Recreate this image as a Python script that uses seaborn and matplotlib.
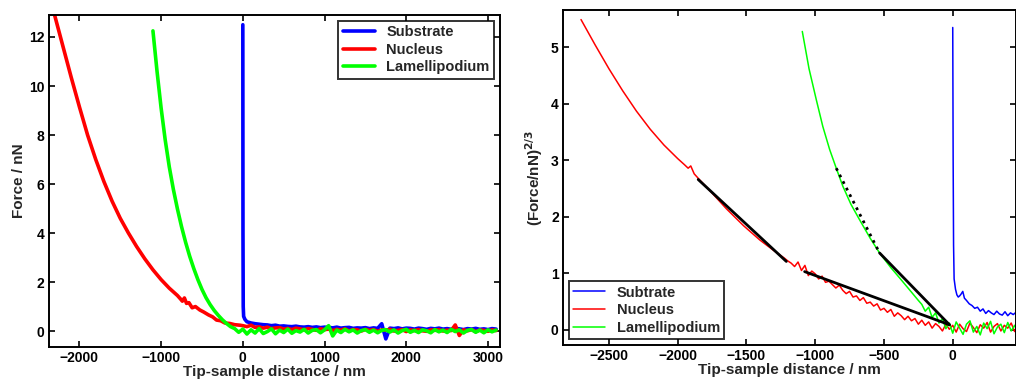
import numpy as np
import pandas as pd
import matplotlib
matplotlib.use("Agg")
import matplotlib.pyplot as plt
import seaborn as sns

sns.set_theme(style="white")
plt.rcParams['font.family'] = ['Liberation Sans', 'DejaVu Sans']
plt.rcParams['font.weight'] = 'bold'
plt.rcParams['axes.labelweight'] = 'bold'

# ================= Left panel: Force / nN =================
# Substrate: contact part, then sampled tail (50 nm grid starting at 50 nm)
left_sub_head_x = [0, 0, 2, 5, 10, 25]
left_sub_head_y = [12.5, 12.5, 4.0, 1.0, 0.60, 0.48]
left_sub_tail_start = 50
left_sub_tail_y = [0.38, 0.33, 0.30, 0.28, 0.26, 0.25, 0.22, 0.24, 0.20, 0.21, 0.19, 0.18, 0.20, 0.17,
                   0.16, 0.18, 0.15, 0.17, 0.14, 0.16, 0.15, 0.13, 0.16, 0.12, 0.14, 0.15, 0.11, 0.13,
                   0.12, 0.14, 0.10, 0.13, 0.11, 0.30, -0.32, 0.12, 0.10, 0.13, 0.09, 0.12, 0.11, 0.08,
                   0.12, 0.10, 0.07, 0.11, 0.09, 0.12, 0.08, 0.10, 0.07, 0.11, 0.09, 0.06, 0.10, 0.08,
                   0.11, 0.07, 0.09, 0.06, 0.10, 0.08]

# Nucleus
left_nuc_head_x = [-2330, -2300, -2200, -2100, -2000, -1900, -1800, -1700, -1600, -1500, -1400, -1300,
                   -1200, -1100, -1000, -900, -800, -760, -740, -715, -689, -660, -620, -580, -526,
                   -480, -420, -370, -322, -270, -220, -160, -100, -37]
left_nuc_head_y = [13.2, 12.85, 11.6, 10.35, 9.15, 8.0, 7.0, 6.1, 5.3, 4.6, 4.0, 3.45, 2.95, 2.5, 2.1,
                   1.75, 1.45, 1.30, 1.22, 1.35, 1.13, 1.16, 0.95, 1.0, 0.86, 0.78, 0.66, 0.58, 0.45,
                   0.42, 0.33, 0.31, 0.26, 0.24]
left_nuc_tail_start = 0
left_nuc_tail_y = [0.22, 0.18, 0.24, 0.15, 0.17, 0.12, 0.16, 0.10, 0.13, 0.14, 0.08, 0.11, 0.06, 0.12,
                   0.09, 0.05, 0.10, 0.07, 0.03, 0.09, 0.06, 0.08, 0.02, 0.07, 0.04, 0.09, 0.01, 0.06,
                   0.05, 0.00, 0.07, 0.03, 0.06, -0.01, 0.05, 0.04, 0.07, 0.00, 0.03, 0.06, -0.02, 0.05,
                   0.02, 0.06, 0.01, -0.01, 0.05, 0.03, 0.06, 0.00, 0.04, 0.02, 0.25, -0.18, 0.05, 0.01,
                   0.06, -0.02, 0.04, 0.03, -0.01, 0.05, 0.02]

# Lamellipodium
left_lam_head_x = [-1100, -1050, -1000, -950, -900, -850, -800, -750, -700, -650, -600, -550, -500,
                   -450, -400, -350, -300, -250, -200, -150]
left_lam_head_y = [12.25, 10.6, 9.1, 7.8, 6.7, 5.78, 4.98, 4.26, 3.62, 3.05, 2.55, 2.1, 1.7, 1.36, 1.08,
                   0.84, 0.64, 0.46, 0.31, 0.18]
left_lam_tail_start = -100
left_lam_tail_y = [0.10, -0.05, 0.08, -0.12, 0.05, -0.08, 0.10, -0.10, -0.02, 0.09, -0.11, 0.04, -0.06,
                   0.08, -0.09, 0.02, -0.04, 0.07, -0.08, 0.03, 0.06, -0.07, 0.05, 0.22, -0.20, 0.04,
                   -0.06, 0.07, -0.03, 0.05, -0.08, 0.02, 0.06, -0.05, 0.04, -0.07, 0.03, 0.06, -0.04,
                   0.05, -0.08, 0.02, 0.07, -0.05, 0.03, -0.06, 0.05, 0.01, -0.07, 0.06, -0.03, 0.04,
                   -0.06, 0.07, -0.02, 0.05, -0.08, 0.03, 0.06, -0.05, 0.04, -0.07, 0.05, -0.03, 0.04]

# ================= Right panel: (Force/nN)^(2/3) =================
right_sub_x = [0, 0, 3, 6, 10, 20, 30, 40, 50, 60, 73, 85, 100, 120, 140, 160, 180, 200, 220, 240, 260,
               280, 300, 320, 340, 360, 380, 400, 420, 440, 460]
right_sub_y = [5.35, 5.35, 3.0, 1.5, 0.9, 0.72, 0.62, 0.58, 0.60, 0.63, 0.68, 0.56, 0.52, 0.46, 0.43,
               0.38, 0.40, 0.33, 0.37, 0.29, 0.34, 0.30, 0.27, 0.33, 0.28, 0.26, 0.32, 0.25, 0.30,
               0.27, 0.31]

right_nuc_head_x = [-2703, -2600, -2500, -2400, -2300, -2200, -2100, -2000, -1950, -1924, -1905, -1880,
                    -1839, -1750, -1645, -1520, -1403, -1300, -1225]
right_nuc_head_y = [5.49, 5.04, 4.62, 4.23, 3.87, 3.55, 3.27, 3.03, 2.92, 2.86, 2.90, 2.76, 2.65, 2.42,
                    2.14, 1.84, 1.59, 1.40, 1.27]
right_nuc_tail_start = -1200
right_nuc_tail_y = [1.22, 1.18, 1.12, 1.20, 1.05, 1.14, 0.96, 1.04, 0.99, 0.90, 0.95, 0.84, 0.86, 0.80,
                    0.74, 0.79, 0.70, 0.64, 0.68, 0.58, 0.60, 0.52, 0.57, 0.47, 0.49, 0.42, 0.46, 0.35,
                    0.38, 0.31, 0.36, 0.24, 0.30, 0.25, 0.18, 0.24, 0.16, 0.20, 0.10, 0.17, 0.08, 0.14,
                    0.03, 0.11, 0.06, -0.02, 0.10, 0.01, 0.08, -0.04, 0.10, 0.02, -0.03, 0.12, 0.04,
                    -0.05, 0.09, 0.03, 0.13, -0.04, 0.06, 0.11, -0.02, 0.08, 0.03, 0.12, -0.03, 0.07]

right_lam_head_x = [-1094, -1045, -992, -945, -895, -847, -799, -740, -678, -600, -532, -450, -380,
                    -315, -250]
right_lam_head_y = [5.28, 4.62, 4.07, 3.60, 3.19, 2.86, 2.54, 2.22, 1.95, 1.62, 1.36, 1.10, 0.90, 0.71,
                    0.52]
right_lam_tail_start = -225
right_lam_tail_y = [0.45, 0.33, 0.40, 0.22, 0.30, 0.12, 0.20, 0.02, 0.12, -0.06, 0.14, 0.03, -0.08,
                    0.10, 0.16, -0.04, 0.06, -0.09, 0.12, 0.02, 0.15, -0.07, 0.05, 0.10, -0.05, 0.13,
                    -0.02, 0.08, -0.06]

# Linear fits (black)
fit_nuc1_x = [-1851, -1210]
fit_nuc1_y = [2.66, 1.21]
fit_nuc2_x = [-1077, -24]
fit_nuc2_y = [1.03, 0.09]
fit_lam1_x = [-847, -532]
fit_lam1_y = [2.86, 1.36]
fit_lam2_x = [-532, -24]
fit_lam2_y = [1.36, 0.09]

BLUE, RED, GREEN = (0, 0, 1), (1, 0, 0), (0, 1, 0)


def series(head_x, head_y, tail_start, tail_y, step):
    tx = [tail_start + step * i for i in range(len(tail_y))]
    return list(head_x) + tx, list(head_y) + list(tail_y)


fig = plt.figure(figsize=(10.16, 3.83), dpi=100)
ax1 = fig.add_axes([0.048, 0.094, 0.444, 0.867])
ax2 = fig.add_axes([0.554, 0.099, 0.446, 0.875])


def line(ax, x, y, color, lw, label=None, ls='-'):
    df = pd.DataFrame({'x': x, 'y': y})
    sns.lineplot(data=df, x='x', y='y', ax=ax, color=color, lw=lw, sort=False,
                 estimator=None, label=label, linestyle=ls)


lx, ly = series(left_sub_head_x, left_sub_head_y, left_sub_tail_start, left_sub_tail_y, 50)
line(ax1, lx, ly, BLUE, 2.6, 'Substrate')
lx, ly = series(left_nuc_head_x, left_nuc_head_y, left_nuc_tail_start, left_nuc_tail_y, 50)
line(ax1, lx, ly, RED, 2.6, 'Nucleus')
lx, ly = series(left_lam_head_x, left_lam_head_y, left_lam_tail_start, left_lam_tail_y, 50)
line(ax1, lx, ly, GREEN, 2.6, 'Lamellipodium')

line(ax2, right_sub_x, right_sub_y, BLUE, 1.1, 'Subtrate')
rx, ry = series(right_nuc_head_x, right_nuc_head_y, right_nuc_tail_start, right_nuc_tail_y, 25)
line(ax2, rx, ry, RED, 1.1, 'Nucleus')
rx, ry = series(right_lam_head_x, right_lam_head_y, right_lam_tail_start, right_lam_tail_y, 25)
line(ax2, rx, ry, GREEN, 1.1, 'Lamellipodium')
line(ax2, fit_nuc1_x, fit_nuc1_y, 'black', 2.0)
line(ax2, fit_nuc2_x, fit_nuc2_y, 'black', 2.0)
line(ax2, fit_lam1_x, fit_lam1_y, 'black', 2.0, ls=':')
line(ax2, fit_lam2_x, fit_lam2_y, 'black', 2.0)

ax1.set_xlim(-2375, 3146)
ax1.set_ylim(-0.65, 12.9)
ax1.set_xticks([-2000, -1000, 0, 1000, 2000, 3000])
ax1.set_yticks([0, 2, 4, 6, 8, 10, 12])
ax1.set_xlabel('Tip-sample distance / nm', fontsize=11, fontweight='bold', labelpad=0)
ax1.set_ylabel('Force / nN', fontsize=11, fontweight='bold', labelpad=2)

ax2.set_xlim(-2835, 460)
ax2.set_ylim(-0.27, 5.66)
ax2.set_xticks([-2500, -2000, -1500, -1000, -500, 0])
ax2.set_yticks([0, 1, 2, 3, 4, 5])
ax2.set_xlabel('Tip-sample distance / nm', fontsize=11, fontweight='bold', labelpad=0)
ax2.set_ylabel('(Force/nN)$^{2/3}$', fontsize=11, fontweight='bold', labelpad=4)

for ax in (ax1, ax2):
    for s in ax.spines.values():
        s.set_visible(True)
        s.set_color('black')
        s.set_linewidth(1.4)
    ax.tick_params(direction='in', length=4, width=1.2, top=True, right=True,
                   bottom=True, left=True, labelsize=10, pad=3, colors='black')
    for t in ax.get_xticklabels() + ax.get_yticklabels():
        t.set_fontweight('bold')

leg1 = ax1.legend(loc='upper right', fontsize=10.5, frameon=True, fancybox=False,
                  borderaxespad=0.4, handlelength=2.2, labelspacing=0.25, borderpad=0.3)
leg1.get_frame().set_edgecolor('black')
leg1.get_frame().set_linewidth(1.4)
for t in leg1.get_texts():
    t.set_fontweight('bold')

leg2 = ax2.legend(loc='lower left', fontsize=10.5, frameon=True, fancybox=False,
                  borderaxespad=0.4, handlelength=2.2, labelspacing=0.25, borderpad=0.3)
leg2.get_frame().set_edgecolor('black')
leg2.get_frame().set_linewidth(1.4)
for t in leg2.get_texts():
    t.set_fontweight('bold')

fig.savefig('out.png', dpi=100)
